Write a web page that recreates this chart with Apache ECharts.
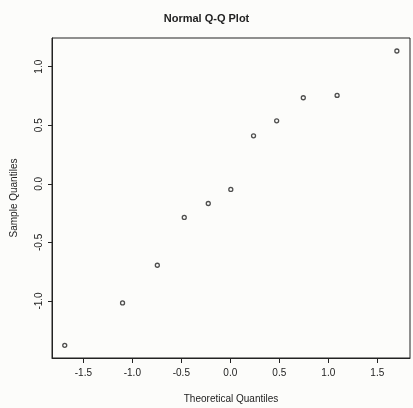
<!DOCTYPE html>
<html><head><meta charset="utf-8">
<script src="https://cdn.jsdelivr.net/npm/echarts@6/dist/echarts.min.js"></script>
<style>html,body{margin:0;padding:0;background:#fcfcfa;}#c{width:413px;height:408px;}</style>
</head><body><div id="c"></div>
<script>
const theoretical = [-1.69, -1.10, -0.745, -0.47, -0.225, 0.005, 0.237, 0.473, 0.745, 1.09, 1.70];
const sample = [-1.379, -1.017, -0.695, -0.287, -0.168, -0.048, 0.41, 0.538, 0.735, 0.755, 1.134];
const xTicks = [-1.5, -1.0, -0.5, 0.0, 0.5, 1.0, 1.5];
const yTicks = [-1.0, -0.5, 0.0, 0.5, 1.0];
const titleText = 'Normal Q-Q Plot';
const xName = 'Theoretical Quantiles';
const yName = 'Sample Quantiles';

const font = 'Liberation Sans, Arial, sans-serif';
const chart = echarts.init(document.getElementById('c'));
chart.setOption({
  backgroundColor: '#fcfcfa',
  animation: false,
  title: { text: titleText, left: 'center', top: 8,
    textStyle: { fontFamily: font, fontSize: 11, fontWeight: 'bold', color: '#222' } },
  grid: { left: 52, right: 3, top: 38, bottom: 50, show: true, borderColor: '#222', borderWidth: 1,
    outerBoundsMode: 'none', containLabel: false },
  xAxis: {
    type: 'value', min: -1.82, max: 1.834,
    name: xName, nameLocation: 'middle', nameGap: 36,
    nameTextStyle: { fontFamily: font, fontSize: 10, color: '#222' },
    splitLine: { show: false },
    axisLine: { show: true, onZero: false, lineStyle: { color: '#222', width: 1 } },
    axisTick: { show: true, inside: false, length: 5, customValues: xTicks, lineStyle: { color: '#222' } },
    axisLabel: { customValues: xTicks, margin: 10, fontFamily: font, fontSize: 10, color: '#222',
      formatter: v => v.toFixed(1) }
  },
  yAxis: {
    type: 'value', min: -1.487, max: 1.245,
    name: yName, nameLocation: 'middle', nameGap: 33,
    nameTextStyle: { fontFamily: font, fontSize: 10, color: '#222' },
    splitLine: { show: false },
    axisLine: { show: true, onZero: false, lineStyle: { color: '#222', width: 1 } },
    axisTick: { show: true, inside: false, length: 4, customValues: yTicks, lineStyle: { color: '#222' } },
    axisLabel: { customValues: yTicks, rotate: 90, margin: 8, fontFamily: font, fontSize: 10, color: '#222',
      formatter: v => v.toFixed(1) }
  },
  series: [{
    type: 'scatter',
    data: theoretical.map((x, i) => [x, sample[i]]),
    symbol: 'circle', symbolSize: 4,
    itemStyle: { color: 'rgba(0,0,0,0)', borderColor: '#222', borderWidth: 1.3 }
  }]
});
</script></body></html>
